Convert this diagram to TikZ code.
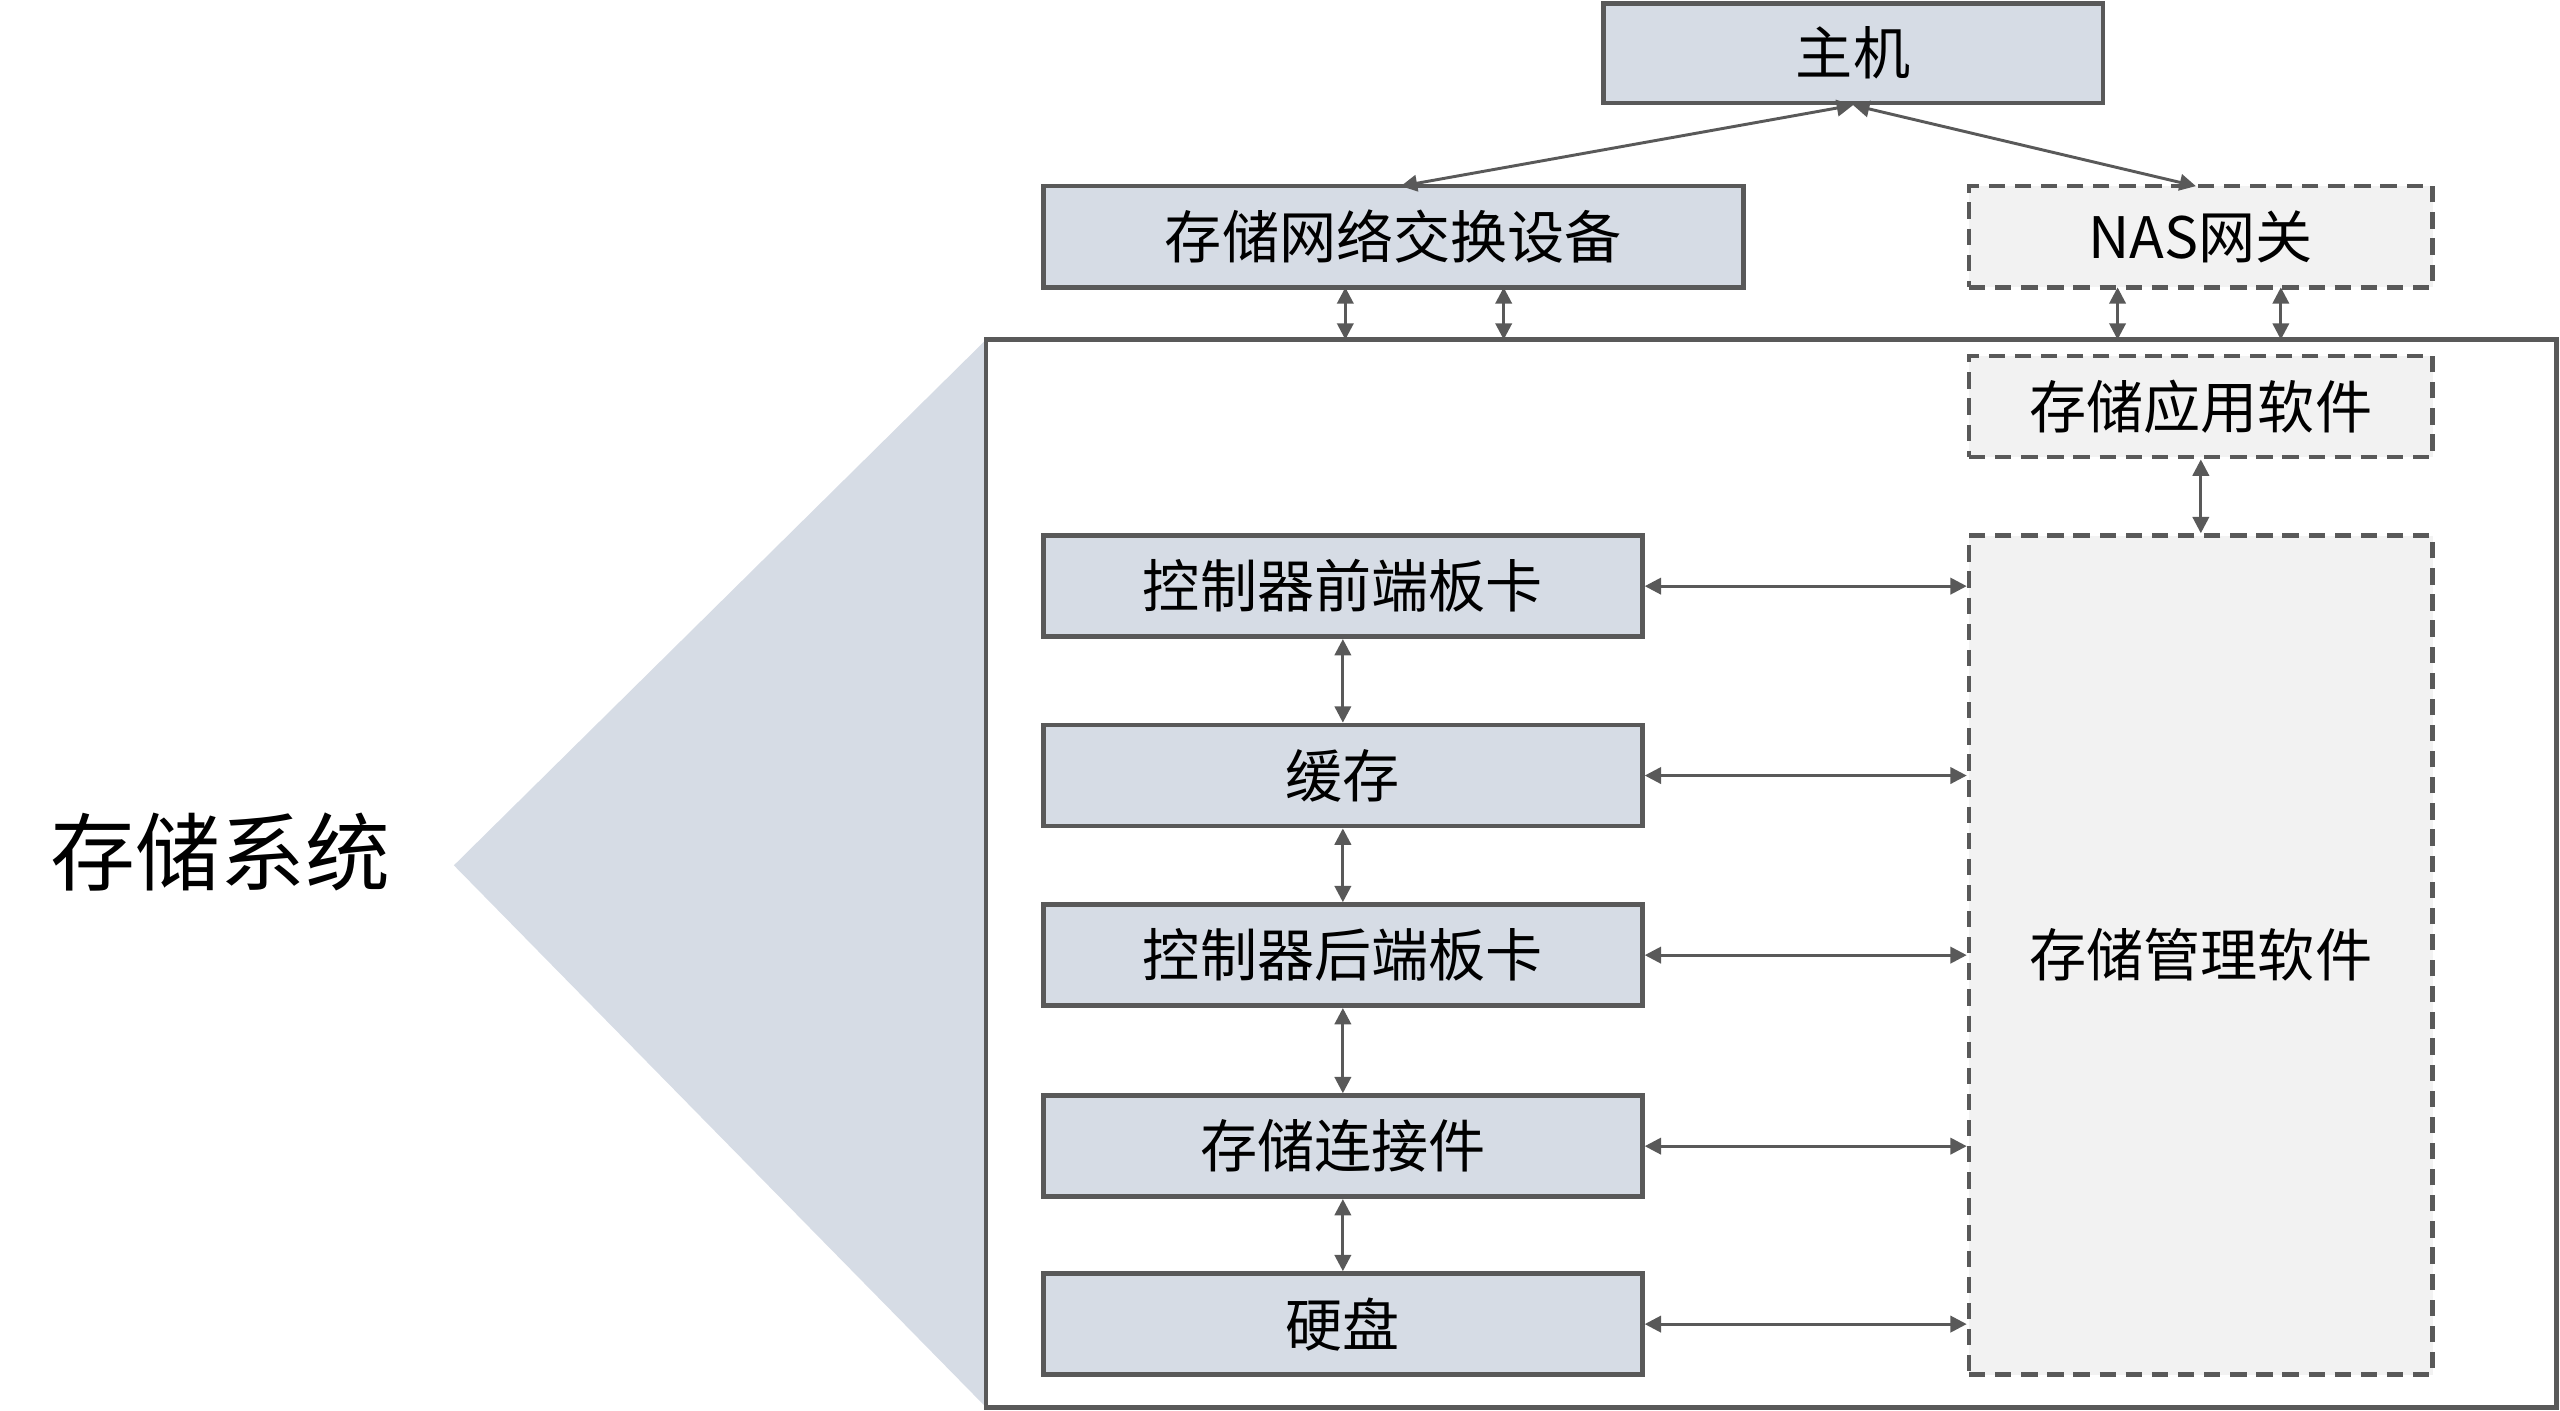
\documentclass[tikz,border=0pt]{standalone}
\usepackage{fontspec}
\setmainfont{Noto Sans CJK SC}
\usetikzlibrary{arrows.meta}
\definecolor{bx}{HTML}{D6DCE5}
\definecolor{ln}{HTML}{595959}
\definecolor{lg}{HTML}{F2F2F2}
\begin{document}
\begin{tikzpicture}[x=0.5pt,y=-0.5pt,
 box/.style={draw=ln,line width=1.4pt,fill=bx,inner sep=0},
 dbox/.style={draw=ln,line width=1.4pt,fill=lg,dashed,dash pattern=on 5pt off 3pt,inner sep=0},
 lab/.style={font=\fontsize{17.5}{19}\selectfont},
 arr/.style={{Triangle[width=5pt,length=5pt]}-{Triangle[width=5pt,length=5pt]},draw=ln,fill=ln,line width=0.9pt}]
\useasboundingbox (0,0) rectangle (1568,864);
\fill[bx] (278,530) -- (604,208) -- (604,862) -- cycle;
\node[lab,font=\fontsize{26}{28}\selectfont] (sys) at (135,522) {存储系统};
\draw[draw=ln,line width=1.4pt] (604,208) rectangle (1566,862);
\node[box,minimum width=153pt,minimum height=30.5pt,lab] (host) at (1135,32.5) {主机};
\node[box,minimum width=214.5pt,minimum height=31pt,lab] (sw) at (853.5,145) {存储网络交换设备};
\node[dbox,minimum width=142pt,minimum height=31pt,lab] (nas) at (1348,145) {NAS网关};
\node[dbox,minimum width=142pt,minimum height=31pt,lab] (app) at (1348,249) {存储应用软件};
\node[dbox,minimum width=142pt,minimum height=257pt,lab] (mgr) at (1348,585) {存储管理软件};
\foreach \n/\t/\y in {a/控制器前端板卡/359,b/缓存/475,c/控制器后端板卡/585,d/存储连接件/702,e/硬盘/811}{
 \node[box,minimum width=183.5pt,minimum height=31pt,lab] (\n) at (822.5,\y) {\t};
 \draw[arr] (\n.east) -- (\n.east -| mgr.west);
}
\draw[arr] (a) -- (b); \draw[arr] (b) -- (c); \draw[arr] (c) -- (d); \draw[arr] (d) -- (e);
\draw[arr] (host.south) -- (858,114);
\draw[arr] (host.south) -- (1345,114);
\foreach \x in {824,921}{\draw[arr] (\x,176) -- (\x,208);}
\foreach \x in {1297,1397}{\draw[arr] (\x,176) -- (\x,208);}
\draw[arr] (app) -- (mgr);
\end{tikzpicture}
\end{document}
